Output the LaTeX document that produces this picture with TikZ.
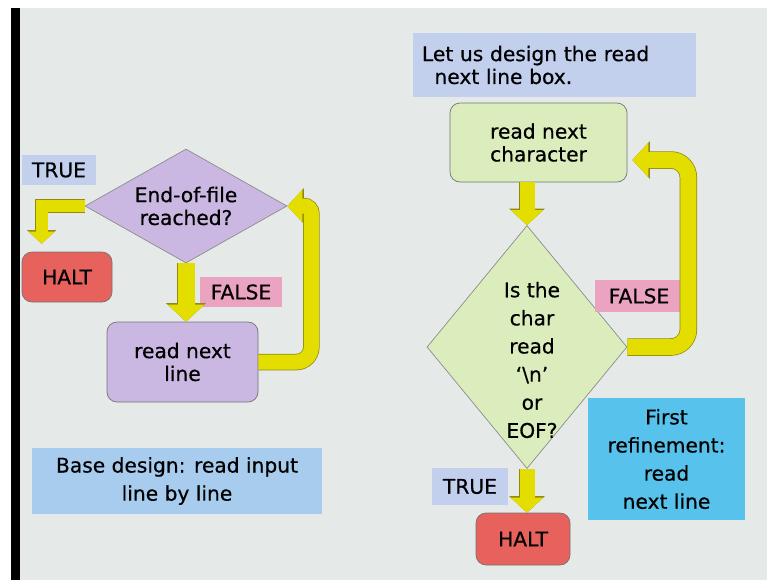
\documentclass[tikz,border=0pt]{standalone}
\usepackage{fontspec}
\setmainfont{DejaVu Sans}[FakeBold=0.5]
\usetikzlibrary{shapes.geometric,arrows.meta,positioning}
\definecolor{slide}{HTML}{E5EAE8}
\definecolor{lav}{HTML}{CBB8E2}
\definecolor{pale}{HTML}{DCEDBD}
\definecolor{haltred}{HTML}{E8625D}
\definecolor{falsepink}{HTML}{EBA3C2}
\definecolor{peri}{HTML}{C2D0EE}
\definecolor{baseblue}{HTML}{A7CCEE}
\definecolor{refcyan}{HTML}{57C3EC}
\definecolor{ybody}{HTML}{E4DE00}
\definecolor{yrim}{HTML}{8F8A10}
\tikzset{
  box/.style={draw=black!55, rounded corners=2mm, align=center, inner sep=0pt},
  decision/.style={diamond, draw=black!45, inner sep=0pt},
  tag/.style={align=center, inner sep=0pt},
  wide/.style={font=\fontsize{11.5}{16}\selectfont},
  yarrow/.style={draw=ybody, line width=#1, -{Triangle[width=0pt 2.1, length=0pt 1.0]},
    preaction={draw=yrim, line width=#1+0.3mm}}
}

\begin{document}
\begin{tikzpicture}[x=1mm, y=-1mm, font=\fontsize{11.5}{13}\selectfont]
  % slide background
  \fill[white] (0,0) rectangle (153.4,116);
  \fill[black] (2.2,1.6) rectangle (4,116);
  \fill[slide] (4,1.6) rectangle (153.4,116);
  \useasboundingbox (0,0) rectangle (153.4,116);

  % base design
  \node[tag, fill=peri, minimum width=14.8mm, minimum height=6mm] (true1) at (11.8,34) {TRUE};
  \node[decision, fill=lav, minimum width=40.4mm, minimum height=22.8mm] (eof) at (37.2,41.2) {};
  \node[align=center] (eoftext) at (eof) {End-of-file\\reached?};
  \node[box, fill=haltred, minimum width=18mm, minimum height=10mm] (halt1) at (13.4,55.4) {HALT};
  \node[tag, fill=falsepink, minimum width=16.4mm, minimum height=6mm] (false1) at (48.2,58.4) {FALSE};
  \node[box, fill=lav, minimum width=30.2mm, minimum height=16mm] (rnl) at (36.5,72.4) {read next\\line};
  \node[tag, wide, fill=baseblue, minimum width=58mm, minimum height=13.2mm] (base) at (35.4,96.2) {Base design: read input\\line by line};

  \draw[yarrow=2.4mm] (eof.west) -| ([xshift=4mm, yshift=1.6mm]halt1.north west);
  \draw[yarrow=3.4mm] (eof.south) -- (eof.south |- rnl.north);
  \draw[yarrow=3mm, rounded corners=3mm] (rnl.east) -- ++(10.6,0) [rounded corners=1.5mm] |- (eof.east);

  % first refinement
  \node[tag, fill=peri, minimum width=56.6mm, minimum height=12.8mm, text width=53mm, align=left] (design) at (110.9,13) {Let us design the read\\\hspace{2.5mm}next line box.};
  \node[box, fill=pale, minimum width=35.4mm, minimum height=15.8mm] (rnc) at (107.7,28.5) {read next\\character};
  \node[decision, fill=pale, minimum width=40mm, minimum height=48.6mm] (ischar) at (105.4,69.4) {};
  \node[align=center, wide] (ischartext) at (106.4,72) {Is the\\char\\read\\‘\textbackslash n’\\or\\EOF?};
  \node[tag, fill=falsepink, minimum width=17.6mm, minimum height=6.4mm] (false2) at (127.8,59.2) {FALSE};
  \node[tag, fill=peri, minimum width=15.2mm, minimum height=7.4mm] (true2) at (94,97.3) {TRUE};
  \node[box, fill=haltred, minimum width=18.8mm, minimum height=10.4mm] (halt2) at (104.6,107.8) {HALT};
  \node[tag, wide, fill=refcyan, minimum width=31.4mm, minimum height=24.4mm] (refine) at (133.3,91.8) {First\\refinement:\\read\\next line};
  \coordinate (back) at ([xshift=1mm, yshift=-3.5mm]rnc.east);

  \draw[yarrow=3mm] (ischar.north |- rnc.south) -- (ischar.north);
  \draw[yarrow=3.2mm, rounded corners=3.5mm] (ischar.east) -- ++(12.2,0) |- (back);
  \draw[yarrow=3mm] (ischar.south) -- (ischar.south |- halt2.north);
\end{tikzpicture}
\end{document}
